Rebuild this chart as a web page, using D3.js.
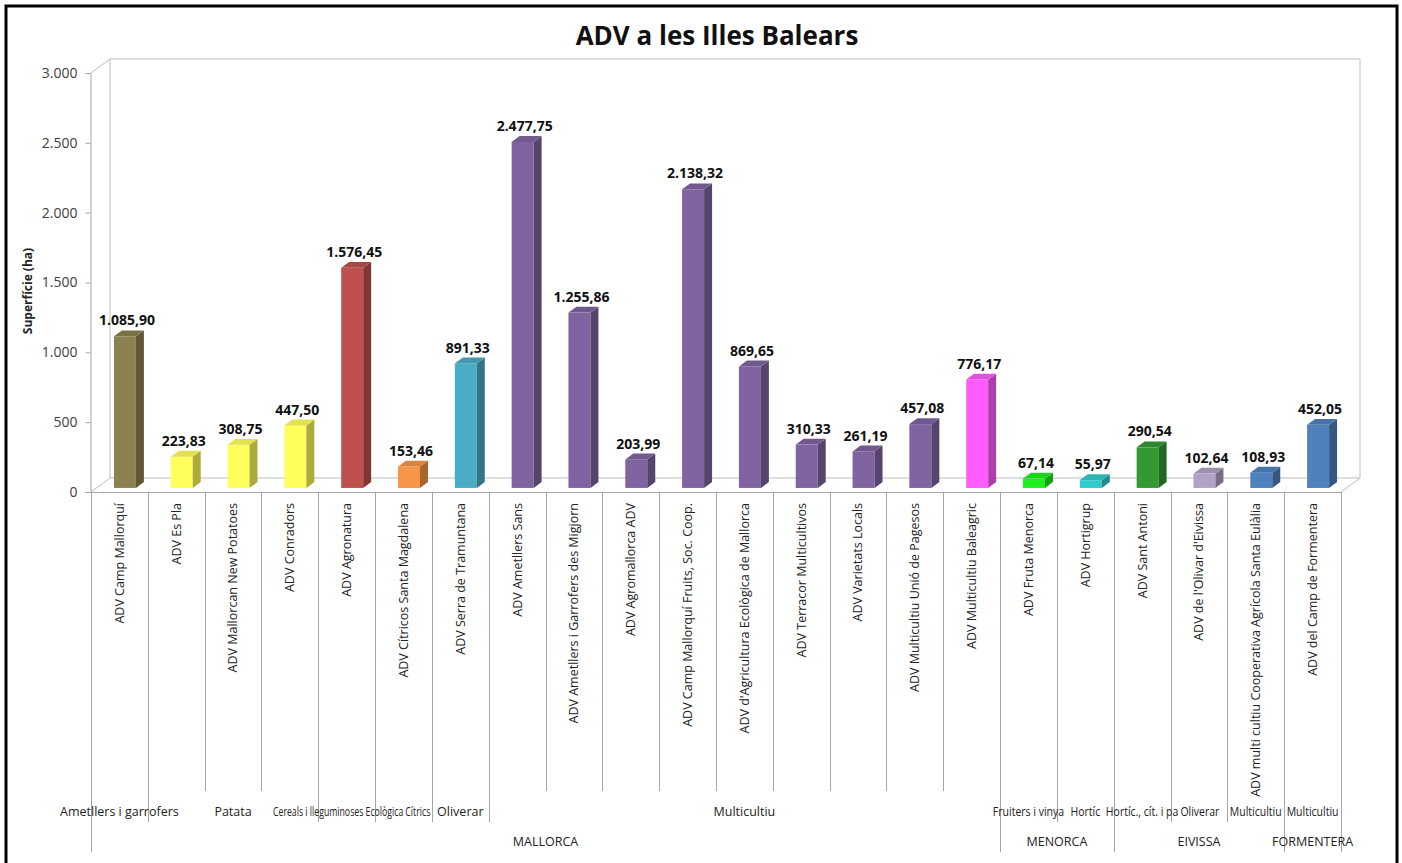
<!DOCTYPE html>
<html>
<head>
<meta charset="utf-8">
<script src="https://cdn.jsdelivr.net/npm/d3@7"></script>
<style>
  html, body { margin: 0; padding: 0; background: #fff; }
  svg { display: block; font-family: "Open Sans", "Noto Sans", sans-serif; }
</style>
</head>
<body>
<svg id="chart" width="1402" height="863"></svg>
<script>
"use strict";

const categories = [
  "ADV Camp Mallorquí", "ADV Es Pla", "ADV Mallorcan New Potatoes", "ADV Conradors",
  "ADV Agronatura", "ADV Cítricos Santa Magdalena", "ADV Serra de Tramuntana",
  "ADV Ametllers Sans", "ADV Ametllers i Garrofers des Migjorn", "ADV Agromallorca ADV",
  "ADV Camp Mallorquí Fruits, Soc. Coop.", "ADV d'Agricultura Ecològica de Mallorca",
  "ADV Terracor Multicultivos", "ADV Varietats Locals", "ADV Multicultiu Unió de Pagesos",
  "ADV Multicultiu Baleagric", "ADV Fruta Menorca", "ADV Hortigrup", "ADV Sant Antoni",
  "ADV de l'Olivar d'Eivissa", "ADV multi cultiu Cooperativa Agrícola Santa Eulàlia",
  "ADV del Camp de Formentera"
];

const values = [
  1085.90, 223.83, 308.75, 447.50, 1576.45, 153.46, 891.33, 2477.75, 1255.86, 203.99,
  2138.32, 869.65, 310.33, 261.19, 457.08, 776.17, 67.14, 55.97, 290.54, 102.64, 108.93, 452.05
];

const barColors = [
  "#8c8150", "#ffff5c", "#ffff5c", "#ffff5c", "#c0504d", "#f79646", "#4bacc6",
  "#8064a2", "#8064a2", "#8064a2", "#8064a2", "#8064a2", "#8064a2", "#8064a2", "#8064a2",
  "#ff5cff", "#1ef01e", "#33cccc", "#339933", "#b3a2c7", "#4f81bd", "#4f81bd"
];

// second level of the category axis (label, position in category units)
const subLabels = [
  "Ametllers i garrofers", "Patata", "Cereals i lleguminoses", "Ecològica", "Cítrics", "Oliverar",
  "Multicultiu", "Fruiters i vinya", "Hortíc", "Hortíc., cít. i pa", "Oliverar",
  "Multicultiu", "Multicultiu"
];
const subAt = [0, 2, 3.5, 4.5, 5, 6, 11, 16, 17, 18, 19, 20, 21];
const subBounds = [0, 1, 4, 5, 6, 7, 16, 17, 18, 19, 20, 21, 22];

// third level: islands
const islands = ["MALLORCA", "MENORCA", "EIVISSA", "FORMENTERA"];
const islandBounds = [0, 16, 18, 21, 22];

const yTicks = [0, 500, 1000, 1500, 2000, 2500, 3000];

const DX = 19, DY = -14;          // depth of the 3d box
const BAR_W = 0.387, BAR_FRONT = 0.29, BAR_DEPTH = 0.42;

const svg = d3.select("#chart");
const locale = d3.formatLocale({ decimal: ",", thousands: ".", grouping: [3], currency: ["", " €"] });
const fmtVal = locale.format(",.2f");
const fmtTick = locale.format(",d");

const x = d3.scaleBand().domain(d3.range(categories.length)).range([91, 1341]);
const bx = i => 91 + i * x.step();       // category boundary
const y = d3.scaleLinear().domain([0, 3000]).range([492, 73]);

// outer border
svg.append("rect")
  .attr("x", 6).attr("y", 6).attr("width", 1391).attr("height", 880)
  .attr("fill", "#fff").attr("stroke", "#000").attr("stroke-width", 3);

// title
svg.append("text")
  .attr("x", 717).attr("y", 45)
  .attr("text-anchor", "middle")
  .style("font-size", "26px").style("font-weight", "bold").attr("fill", "#111")
  .text("ADV a les Illes Balears");

/*
 * 3d walls and floor
 ***/
const x0 = x.range()[0], x1 = x.range()[1], y0 = y(0), yTop = y(3000);
const walls = svg.append("g").attr("fill", "none").attr("stroke", "#bdbdbd").attr("stroke-width", 1);
walls.append("path").attr("d", `M${x0 + DX},${y0 + DY}V${yTop + DY}H${x1 + DX}V${y0 + DY}`);
walls.append("path").attr("d", `M${x0},${yTop}L${x0 + DX},${yTop + DY}`);
walls.append("path")
  .attr("d", `M${x0},${y0}L${x0 + DX},${y0 + DY}H${x1 + DX}L${x1},${y0}`)
  .attr("fill", "#fff");

/*
 * y axis
 ***/
const yAxis = d3.axisLeft(y).tickValues(yTicks).tickFormat(fmtTick).tickSize(5).tickPadding(8);
const yG = svg.append("g").attr("transform", `translate(${x0 - 0.5},0)`).call(yAxis);
yG.select(".domain").attr("stroke", "#a6a6a6");
yG.selectAll(".tick line").attr("stroke", "#a6a6a6");
yG.selectAll(".tick text")
  .attr("fill", "#404040")
  .style("font-size", "14px")
  .style("font-family", "'Open Sans', sans-serif");

svg.append("text")
  .attr("transform", "translate(32,291) rotate(-90)")
  .attr("text-anchor", "middle")
  .style("font-size", "12px").style("font-weight", "bold").attr("fill", "#222")
  .text("Superfície (ha)");

/*
 * category axis (three levels)
 ***/
const axisG = svg.append("g").attr("stroke", "#a6a6a6").attr("stroke-width", 1);
axisG.append("line").attr("x1", x0 - 5).attr("x2", x1).attr("y1", y0 + 0.5).attr("y2", y0 + 0.5);
const sep = (cls, data, bottom) => axisG.selectAll("line." + cls).data(data).enter()
  .append("line").attr("class", cls)
  .attr("x1", d => Math.round(bx(d)) + 0.5).attr("x2", d => Math.round(bx(d)) + 0.5)
  .attr("y1", y0).attr("y2", bottom);
sep("l1", d3.range(categories.length + 1), 791);
sep("l2", subBounds, 822);
sep("l3", islandBounds, 852);

svg.append("g").selectAll("text").data(categories).enter()
  .append("text")
  .attr("transform", (d, i) => `translate(${x(i) + x.bandwidth() / 2},503) rotate(-90)`)
  .attr("text-anchor", "end").attr("dy", "0.35em")
  .style("font-size", "12.5px").attr("fill", "#222")
  .text(d => d);

// labels that crowd each other are squeezed and pushed right so they don't collide
const subG = svg.append("g");
let prevRight = -Infinity;
subLabels.forEach((label, k) => {
  const cx = bx(subAt[k] + 0.5);
  const sx = (k >= 2 && k <= 4) ? 0.7 : (k >= 7 ? 0.84 : 1);
  const g = subG.append("g");
  const t = g.append("text").attr("text-anchor", "start")
    .style("font-size", "12.5px").attr("fill", "#222").text(label);
  const w = t.node().getComputedTextLength() * sx;
  const left = Math.max(cx - w / 2, prevRight + 2);
  prevRight = left + w;
  g.attr("transform", `translate(${left},816) scale(${sx},1)`);
});

svg.append("g").selectAll("text").data(islands).enter()
  .append("text")
  .attr("transform", (d, i) => `translate(${(bx(islandBounds[i]) + bx(islandBounds[i + 1])) / 2},846)`)
  .attr("text-anchor", "middle")
  .style("font-size", "12.5px").attr("fill", "#222")
  .text(d => d);

/*
 * 3d bars
 ***/
const bw = x.bandwidth() * BAR_W;
const fdx = DX * BAR_FRONT, fdy = DY * BAR_FRONT;
const ddx = DX * BAR_DEPTH, ddy = DY * BAR_DEPTH;

const bars = svg.append("g").selectAll("g").data(values).enter().append("g");

bars.each(function (v, i) {
  const g = d3.select(this);
  const c = barColors[i];
  const left = x(i) + (x.bandwidth() - bw) / 2 + fdx;
  const right = left + bw;
  const base = y(0) + fdy;
  const top = y(v) + fdy;

  g.append("rect")
    .attr("x", left).attr("y", top).attr("width", bw).attr("height", base - top)
    .attr("fill", c);
  g.append("path")
    .attr("d", `M${right},${base}V${top}l${ddx},${ddy}V${base + ddy}Z`)
    .attr("fill", d3.color(c).darker(1.1));
  g.append("path")
    .attr("d", `M${left},${top}H${right}l${ddx},${ddy}H${left + ddx}Z`)
    .attr("fill", d3.color(c).darker(0.35));

  g.append("text")
    .attr("x", left + bw / 2 + 2).attr("y", top + ddy - 5)
    .attr("text-anchor", "middle")
    .style("font-size", "14px").style("font-weight", "bold").attr("fill", "#111")
    .text(fmtVal(v));
});
</script>
</body>
</html>
